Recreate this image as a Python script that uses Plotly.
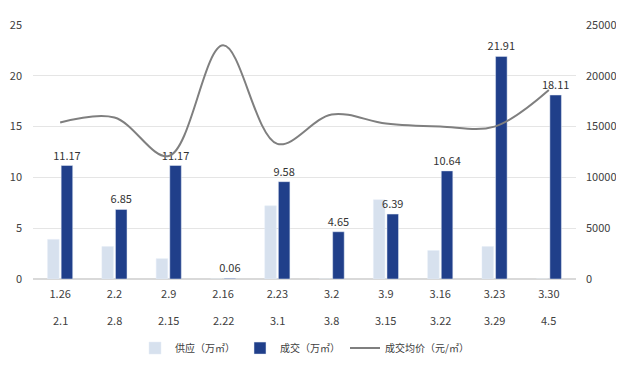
import plotly.graph_objects as go

cats_top = ["1.26", "2.2", "2.9", "2.16", "2.23", "3.2", "3.9", "3.16", "3.23", "3.30"]
cats_bot = ["2.1", "2.8", "2.15", "2.22", "3.1", "3.8", "3.15", "3.22", "3.29", "4.5"]
supply = [3.9, 3.2, 2.0, 0, 7.2, 0, 7.8, 2.8, 3.2, 0]
deal = [11.17, 6.85, 11.17, 0.06, 9.58, 4.65, 6.39, 10.64, 21.91, 18.11]
price = [15400, 15900, 12100, 23000, 13300, 16200, 15300, 15000, 15000, 18600]

x = list(range(len(cats_top)))
FONT = "Noto Sans CJK SC"

fig = go.Figure()
fig.add_trace(go.Bar(x=x, y=supply, name="供应（万㎡）", marker_color="#d7e1ee"))
fig.add_trace(go.Bar(x=x, y=deal, name="成交（万㎡）", marker_color="#203f8a",
                     text=[f"{v:.2f}" for v in deal], textposition="outside",
                     constraintext="none",
                     textfont=dict(size=11, color="#333333"), cliponaxis=False))
fig.add_trace(go.Scatter(x=x, y=price, name="成交均价（元/㎡）", yaxis="y2", mode="lines",
                         line=dict(color="#7f7f7f", width=2, shape="spline", smoothing=1.0)))

for xi, lab in zip(x, cats_bot):
    fig.add_annotation(x=xi, xref="x", y=0, yref="paper", yshift=-41, text=lab,
                       showarrow=False, yanchor="middle", xanchor="center",
                       font=dict(size=11, color="#404040"))

fig.update_layout(
    width=616, height=357,
    margin=dict(l=25, r=48, t=17, b=86, autoexpand=False),
    paper_bgcolor="white", plot_bgcolor="white",
    font=dict(family=FONT, size=11, color="#404040"),
    barmode="group", bargap=0.5, bargroupgap=0.15,
    showlegend=True,
    legend=dict(orientation="h", x=0.5, xanchor="center", y=0.088, yanchor="top",
                yref="container",
                font=dict(size=10, color="#404040"), traceorder="normal"),
    xaxis=dict(tickmode="array", tickvals=x, ticktext=cats_top, showgrid=False,
               showline=False, zeroline=False, ticks="", range=[-0.5, 9.5],
               automargin=False, ticklabelstandoff=7,
               tickfont=dict(size=11, color="#404040")),
    yaxis=dict(range=[0, 25], dtick=5, showgrid=True, gridcolor="#e5e5e5", gridwidth=1,
               zeroline=True, zerolinecolor="#d9d9d9", showline=False, ticks="",
               automargin=False,
               tickfont=dict(size=11, color="#404040"), ticklabelstandoff=10),
    yaxis2=dict(range=[0, 25000], dtick=5000, overlaying="y", side="right",
                showgrid=False, zeroline=False, showline=False, ticks="",
                tickformat="d", automargin=False,
                tickfont=dict(size=11, color="#404040"), ticklabelstandoff=9),
)

fig.write_html("out.html")
